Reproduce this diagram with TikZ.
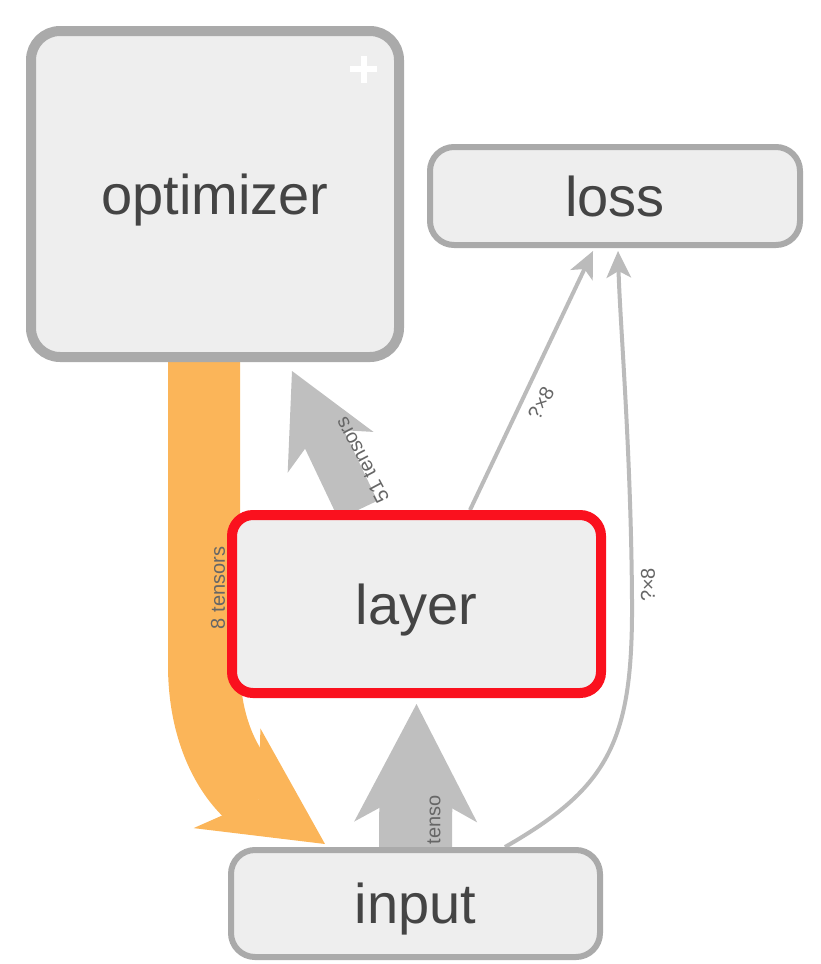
\documentclass[tikz,border=0pt]{standalone}
\usepackage{fontspec}
\setmainfont{Liberation Sans}
\usetikzlibrary{arrows.meta, backgrounds}

\definecolor{nodefill}{HTML}{EEEEEE}
\definecolor{nodeline}{HTML}{AAAAAA}
\definecolor{selred}{HTML}{FA111E}
\definecolor{flowgray}{HTML}{BFBFBF}
\definecolor{flowedge}{HTML}{BBBBBB}
\definecolor{flowref}{HTML}{FBB559}
\definecolor{labeltxt}{HTML}{444444}
\definecolor{edgetxt}{HTML}{666666}

\begin{document}
\begin{tikzpicture}[x=0.5pt, y=-0.5pt,
    box/.style={draw=nodeline, fill=nodefill, line width=3pt, rounded corners=12pt,
      inner sep=0pt, text depth=0pt, text=labeltxt, font=\fontsize{28}{30}\selectfont},
    edgelabel/.style={text=edgetxt, inner sep=0pt, font=\fontsize{10}{12}\selectfont},
    thinflow/.style={draw=flowedge, line width=2pt,
      -{Stealth[length=13.5pt, width=12.5pt, inset=3.5pt, line width=0pt]}}]
  \useasboundingbox (0,0) rectangle (820,964);

  % Nodes ------------------------------------------------------------------
  \node[box, line width=5pt, rounded corners=14.5pt,
        minimum width=184pt, minimum height=163pt] (optimizer) at (215,194) {optimizer};
  \node[box, minimum width=185pt, minimum height=49pt] (loss) at (615,196) {loss};
  \node[box, draw=selred, line width=5pt, rounded corners=10.5pt,
        minimum width=184.5pt, minimum height=89pt] (layer) at (416.5,604) {layer};
  \node[box, minimum width=184.5pt, minimum height=53.5pt] (input) at (415.5,903.5) {input};

  % expand mark
  \draw[white, line width=3pt] (350,69) -- (377,69) (363.5,55.5) -- (363.5,82.5);

  % Edges (under the nodes) ------------------------------------------------
  \begin{scope}[on background layer]
    % reference edge, optimizer -> input
    \draw[flowref, line width=36pt,
          -{Stealth[length=59pt, width=60pt, inset=19pt, line width=0pt]}]
      ([xshift=-5.5pt]optimizer.south) -- ++(0,303)
      .. controls +(0,80) and +(-85,-57) .. ([xshift=-45.25pt, yshift=1.5pt]input.north);
    \node[edgelabel, rotate=90] (lbl-ref) at (218,588) {8 tensors};

    % data edges
    \draw[flowgray, line width=21.5pt,
          -{Stealth[length=45pt, width=47.5pt, inset=13pt, line width=0pt]}]
      ([xshift=-29.25pt]layer.north) -- ([xshift=38.5pt, yshift=-4.5pt]optimizer.south);
    \node[edgelabel, rotate=118] (lbl-opt) at (362,460) {51 tensors};

    \draw[flowgray, line width=36.5pt,
          -{Stealth[length=59pt, width=61.5pt, inset=17pt, line width=0pt]}]
      (input.north) -- ([yshift=-3pt]layer.south);
    \node[edgelabel, rotate=90] (lbl-in) at (434,820) {tenso};

    \draw[thinflow] ([xshift=26.75pt]layer.north) -- ([xshift=-11pt, yshift=-1.5pt]loss.south);
    \node[edgelabel, rotate=62] (lbl-loss1) at (541,403) {?×8};

    \draw[thinflow] ([xshift=44.75pt]input.north)
      .. controls +(105,-60) and +(1,140) .. (632,600)
      .. controls +(-1,-150) and +(2,72) .. ([xshift=1.5pt, yshift=-1.5pt]loss.south);
    \node[edgelabel, rotate=90] (lbl-loss2) at (648,585) {?×8};
  \end{scope}
\end{tikzpicture}
\end{document}
